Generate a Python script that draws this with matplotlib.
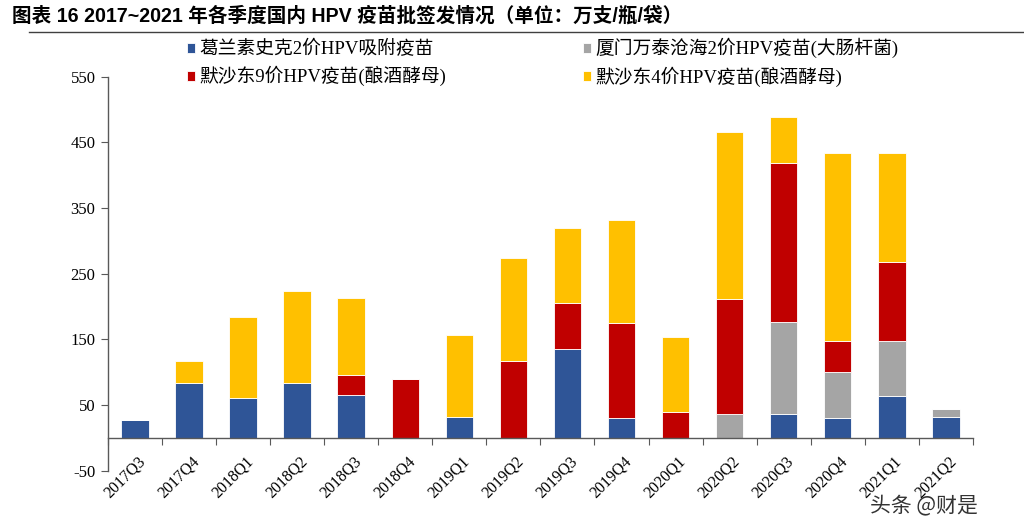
import matplotlib
matplotlib.use("Agg")
import matplotlib.pyplot as plt
import numpy as np

categories = ["2017Q3", "2017Q4", "2018Q1", "2018Q2", "2018Q3", "2018Q4",
              "2019Q1", "2019Q2", "2019Q3", "2019Q4", "2020Q1", "2020Q2",
              "2020Q3", "2020Q4", "2021Q1", "2021Q2"]
gsk2 = [27, 83, 61, 83, 65, 0, 32, 0, 136, 30, 0, 0, 36, 30, 63, 32]
wantai2 = [0, 0, 0, 0, 0, 0, 0, 0, 0, 0, 0, 36, 140, 70, 85, 12]
msd9 = [0, 0, 0, 0, 30, 90, 0, 117, 70, 145, 40, 175, 243, 48, 120, 0]
msd4 = [0, 34, 123, 140, 118, 0, 125, 157, 114, 157, 113, 254, 70, 285, 166, 0]
series_names = ["葛兰素史克2价HPV吸附疫苗", "厦门万泰沧海2价HPV疫苗(大肠杆菌)",
                "默沙东9价HPV疫苗(酿酒酵母)", "默沙东4价HPV疫苗(酿酒酵母)"]
colors = ["#2F5597", "#A5A5A5", "#C00000", "#FFC000"]
yticks = [-50, 50, 150, 250, 350, 450, 550]

serif = ["Liberation Serif", "Noto Sans CJK SC"]
plt.rcParams['font.family'] = serif

fig = plt.figure(figsize=(10.24, 5.29), dpi=100)
ax = fig.add_axes([0.1055, 0.1102, 0.8445, 0.745])

x = np.arange(len(categories))
bottom = np.zeros(len(categories))
handles = []
for vals, name, c in zip([gsk2, wantai2, msd9, msd4], series_names, colors):
    v = np.array(vals, dtype=float)
    b = ax.bar(x, v, width=0.51, bottom=bottom, color=c, edgecolor="white",
               linewidth=0.6, label=name)
    handles.append(b)
    bottom += v

ax.set_xlim(-0.5, len(categories) - 0.5)
ax.set_ylim(-50, 550)
ax.set_yticks(yticks)
ax.set_yticklabels([str(t) for t in yticks], fontsize=12, family=serif)

ax.spines['top'].set_visible(False)
ax.spines['right'].set_visible(False)
ax.spines['bottom'].set_position(('data', 0))
for s in ['left', 'bottom']:
    ax.spines[s].set_color("#595959")
    ax.spines[s].set_linewidth(1.0)

ax.set_xticks(np.arange(-0.5, len(categories), 1.0))
ax.set_xticklabels([])
ax.set_xticks(x + 0.04, minor=True)
ax.set_xticklabels(categories, minor=True, rotation=45, ha='right', va='top',
                   rotation_mode='anchor', fontsize=11.5, family=serif)
ax.tick_params(axis='x', which='major', direction='out', length=5, color="#595959")
ax.tick_params(axis='x', which='minor', length=0, pad=11)
ax.tick_params(axis='y', direction='out', length=5, color="#595959", pad=4)

# legend
leg_order = [handles[0], handles[2], handles[1], handles[3]]
leg_labels = [series_names[0], series_names[2], series_names[1], series_names[3]]
fig.legend(leg_order, leg_labels, ncol=2, loc='upper left',
           bbox_to_anchor=(0.166, 0.960), frameon=False,
           prop={'family': serif, 'size': 13.5},
           handlelength=0.45, handleheight=0.45, handletextpad=0.2,
           columnspacing=7.3, labelspacing=0.42)

# title
fig.text(0.012, 0.971, "图表 16 2017~2021 年各季度国内 HPV 疫苗批签发情况（单位：万支/瓶/袋）",
         fontsize=14.1, fontweight='bold', family=["Liberation Sans", "Noto Sans CJK SC"],
         ha='left', va='center')
fig.add_artist(plt.Line2D([0.028, 1.0], [0.94, 0.94], color="#404040", linewidth=1.0,
                          transform=fig.transFigure))

# watermark
fig.text(0.85, 0.045, "头条 @财是", fontsize=15, color="#333333",
         family=["Noto Sans CJK SC", "DejaVu Sans"], ha='left', va='center')

fig.savefig("out.png", dpi=100)
